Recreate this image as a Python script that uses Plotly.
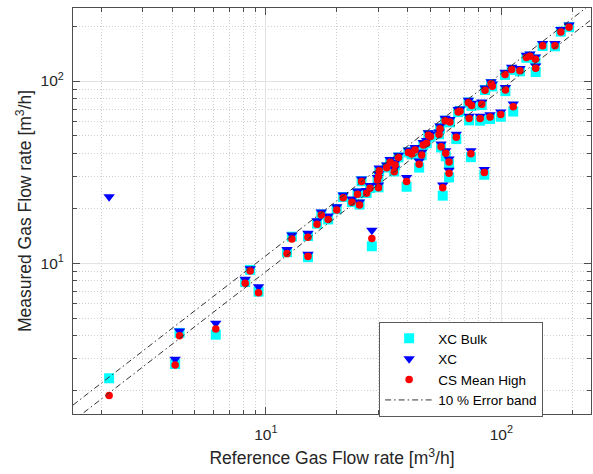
import plotly.graph_objects as go

# Reference flow rate [m3/h] and the three measured series at each test point
ref_flow = [2.16, 4.12, 4.30, 6.13, 8.17, 8.58, 9.31, 12.3, 12.9, 15.1, 15.1,
            16.5, 17.2, 18.4, 20.0, 21.3, 23.2, 24.5, 25.0, 25.5, 26.8, 27.7,
            28.2, 29.8, 30.1, 30.1, 30.3, 32.6, 33.7, 35.1, 35.4, 36.6, 39.6,
            40.3, 41.6, 43.0, 44.8, 45.9, 46.6, 48.2, 49.0, 50.0, 54.4, 54.9,
            55.5, 56.4, 57.7, 58.1, 60.0, 60.0, 60.5, 64.4, 65.6, 66.8, 72.5,
            73.0, 74.3, 74.8, 81.3, 82.6, 84.7, 85.3, 89.6, 90.5, 91.6, 99.5,
            103.7, 104.1, 110.7, 112.4, 120.0, 127.8, 132.4, 139.6, 140.0,
            149.8, 169.0, 179.0, 194.0]

cs_mean_high = [1.88, 2.77, 4.01, 4.36, 7.77, 9.07, 6.90, 11.3, 13.6, 13.9, 10.9,
                16.4, 18.4, 17.4, 19.6, 22.9, 21.6, 23.9, 20.9, 28.1, 24.2, 25.8,
                13.7, 28.6, 26.0, 29.9, 32.2, 33.4, 35.8, 31.8, 34.6, 38.0, 28.1,
                40.5, 39.8, 41.8, 34.9, 39.3, 44.6, 45.5, 50.4, 49.6, 50.9, 54.8,
                43.6, 26.0, 60.6, 40.1, 36.0, 31.2, 59.6, 49.1, 67.6, 68.3, 76.0,
                62.2, 39.9, 73.3, 62.2, 74.5, 31.5, 89.0, 63.4, 96.5, 93.6, 65.6,
                108.5, 89.3, 115.6, 72.3, 113.8, 134.5, 136.5, 131.5, 117.4,
                156.0, 156.0, 186.0, 197.0]

xc = [23.2, 2.98, 4.25, 4.69, 8.17, 9.34, 7.44, 11.9, 14.3, 14.6, 11.2,
      17.1, 19.1, 18.2, 20.4, 23.7, 22.5, 24.9, 21.7, 29.0, 25.1, 26.7,
      15.2, 29.6, 26.9, 31.0, 33.3, 34.6, 37.1, 33.0, 35.8, 39.2, 29.6,
      41.9, 41.1, 43.2, 36.4, 40.6, 46.0, 47.1, 52.0, 51.2, 52.5, 56.6,
      45.1, 26.9, 62.4, 41.5, 37.3, 32.4, 61.5, 51.0, 69.7, 70.3, 78.3,
      64.0, 41.5, 75.6, 64.0, 76.8, 32.7, 91.6, 65.3, 99.2, 96.4, 67.6,
      111.7, 92.0, 119.0, 74.7, 117.2, 138.5, 140.5, 135.4, 121.0,
      160.7, 160.7, 191.6, 203.0]

xc_bulk = [2.34, 2.80, 4.15, 4.06, 7.90, 9.20, 6.99, 11.5, 14.0, 14.1, 10.8,
           16.5, 18.5, 17.4, 19.8, 23.1, 21.7, 24.2, 21.0, 28.2, 24.3, 25.9,
           12.4, 28.5, 26.1, 30.0, 32.1, 33.5, 36.0, 31.9, 34.5, 38.1, 26.3,
           40.6, 39.6, 41.7, 33.5, 39.1, 44.4, 45.6, 50.5, 49.5, 51.0, 54.9,
           43.2, 23.5, 60.5, 38.6, 35.0, 29.6, 59.3, 48.0, 67.5, 68.5, 76.2,
           60.8, 38.2, 73.0, 60.6, 73.8, 30.6, 89.3, 61.9, 96.0, 93.4, 63.7,
           108.0, 88.0, 115.0, 68.0, 113.0, 134.0, 136.0, 131.0, 112.0,
           155.5, 155.0, 186.5, 197.5]

# Axis limits and the +/-10 % error band factors
x_limits = [1.517, 240.0]
y_limits = [1.49, 251.0]
band_factors = [1.1, 0.9]

tick_vals = [10, 100]
tick_text = ["10<sup>1</sup>", "10<sup>2</sup>"]
minor_vals = [2, 3, 4, 5, 6, 7, 8, 9, 20, 30, 40, 50, 60, 70, 80, 90, 200]

FONT = "Liberation Sans, Arial, sans-serif"

fig = go.Figure()

fig.add_trace(go.Scatter(
    x=ref_flow, y=xc_bulk, mode="markers", name="XC Bulk",
    marker=dict(symbol="square", size=10, color="#00ffff", line=dict(width=0))))
fig.add_trace(go.Scatter(
    x=ref_flow, y=xc, mode="markers", name="XC",
    marker=dict(symbol="triangle-down", size=10, color="#0000ff", line=dict(width=0))))
fig.add_trace(go.Scatter(
    x=ref_flow, y=cs_mean_high, mode="markers", name="CS Mean High",
    marker=dict(symbol="circle", size=7.5, color="#ff0000", line=dict(width=0))))

for i, f in enumerate(band_factors):
    fig.add_trace(go.Scatter(
        x=x_limits, y=[f * v for v in x_limits], mode="lines",
        name="10 % Error band", showlegend=(i == 0),
        line=dict(color="#333333", width=1, dash="6px,3px,1.5px,3px")))

axis_common = dict(
    type="log",
    tickvals=tick_vals, ticktext=tick_text,
    ticks="inside", ticklen=7, tickwidth=1, tickcolor="#4d4d4d",
    showline=True, linecolor="#4d4d4d", linewidth=1, mirror="allticks",
    showgrid=True, gridcolor="#e3e3e3", gridwidth=1,
    zeroline=False,
    tickfont=dict(family=FONT, size=15.5, color="#262626"),
    minor=dict(tickvals=minor_vals, ticks="inside", ticklen=4, tickcolor="#4d4d4d",
               showgrid=True, gridcolor="#cfcfcf", griddash="1px,2px", gridwidth=1),
)

fig.update_xaxes(
    **axis_common,
    range=[0.181, 2.381],
    ticklabelstandoff=6,
    title=dict(text="Reference Gas Flow rate [m<sup>3</sup>/h]", standoff=10,
               font=dict(family=FONT, size=17.5, color="#262626")),
)
fig.update_yaxes(
    **axis_common,
    range=[0.1733, 2.4005],
    ticklabelstandoff=5,
    title=dict(text="Measured Gas Flow rate [m<sup>3</sup>/h]", standoff=4,
               font=dict(family=FONT, size=17.5, color="#262626")),
)

fig.update_layout(
    width=593, height=474,
    margin=dict(l=73, r=2, t=8, b=60, autoexpand=False),
    plot_bgcolor="white", paper_bgcolor="white",
    showlegend=True,
    legend=dict(
        x=0.591, y=0.2266, xanchor="left", yanchor="top",
        bgcolor="white", bordercolor="#5a5a5a", borderwidth=1,
        font=dict(family=FONT, size=13.5, color="#000000"),
        itemwidth=48, tracegroupgap=0,
    ),
)

fig.write_html("out.html")
